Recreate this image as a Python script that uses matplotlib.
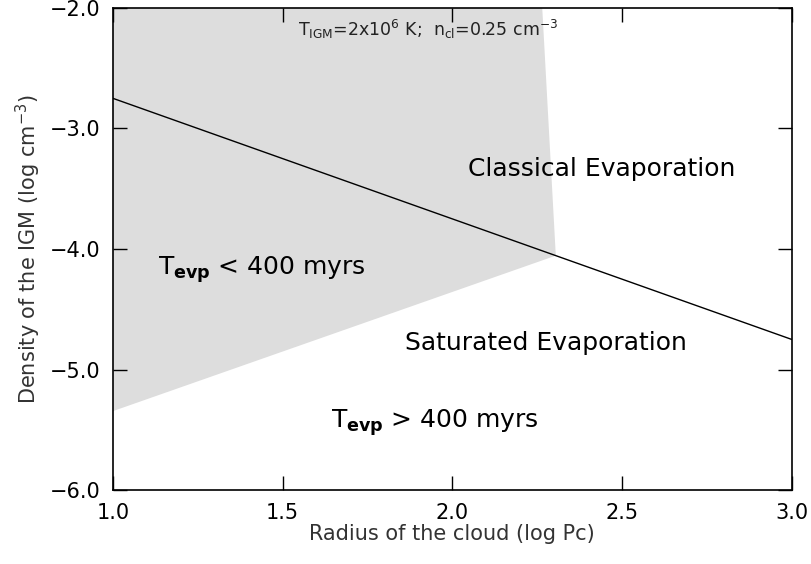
import matplotlib
matplotlib.use("Agg")
import matplotlib.pyplot as plt

# region limits (log radius, log density)
shade_x = [1.0, 2.265, 2.305, 1.0]
shade_y = [-2.0, -2.0, -4.055, -5.345]

# boundary classical / saturated evaporation
line_x = [1.0, 3.0]
line_y = [-2.75, -4.75]

xticks = [1.0, 1.5, 2.0, 2.5, 3.0]
yticks = [-6.0, -5.0, -4.0, -3.0, -2.0]

plt.rcParams['font.family'] = ['DejaVu Sans']
plt.rcParams['mathtext.default'] = 'regular'

fig = plt.figure(figsize=(8.12, 5.64), dpi=100)
ax = fig.add_axes([0.139, 0.131, 0.836, 0.855])

ax.fill(shade_x, shade_y, color='#dddddd', lw=0, zorder=1)
ax.plot(line_x, line_y, color='black', lw=1.0, zorder=2)

ax.set_xlim(1.0, 3.0)
ax.set_ylim(-6.0, -2.0)
ax.set_xticks(xticks)
ax.set_yticks(yticks)
ax.set_xticklabels([f"{v:.1f}" for v in xticks])
ax.set_yticklabels([f"\u2212{abs(v):.1f}" for v in yticks])
ax.tick_params(direction='in', length=10, width=1.0, labelsize=15,
               top=True, right=True, pad=9)
for s in ax.spines.values():
    s.set_linewidth(1.2)

ax.set_xlabel("Radius of the cloud (log Pc)", fontsize=15, color='#333333', labelpad=1)
ax.set_ylabel("Density of the IGM (log cm$^{-3}$)", fontsize=15, color='#333333', labelpad=5)

ax.text(1.93, -2.18, r"T$_{IGM}$=2x10$^{6}$ K;  n$_{cl}$=0.25 cm$^{-3}$",
        fontsize=12.5, ha='center', va='center', color='#222222')
ax.text(2.44, -3.34, "Classical Evaporation", fontsize=18, ha='center', va='center')
ax.text(2.275, -4.78, "Saturated Evaporation", fontsize=18, ha='center', va='center')
ax.text(1.44, -4.17, r"T$_{\mathbf{evp}}$ < 400 myrs", fontsize=18, ha='center', va='center')
ax.text(1.95, -5.44, r"T$_{\mathbf{evp}}$ > 400 myrs", fontsize=18, ha='center', va='center')

fig.savefig("out.png", dpi=100)
